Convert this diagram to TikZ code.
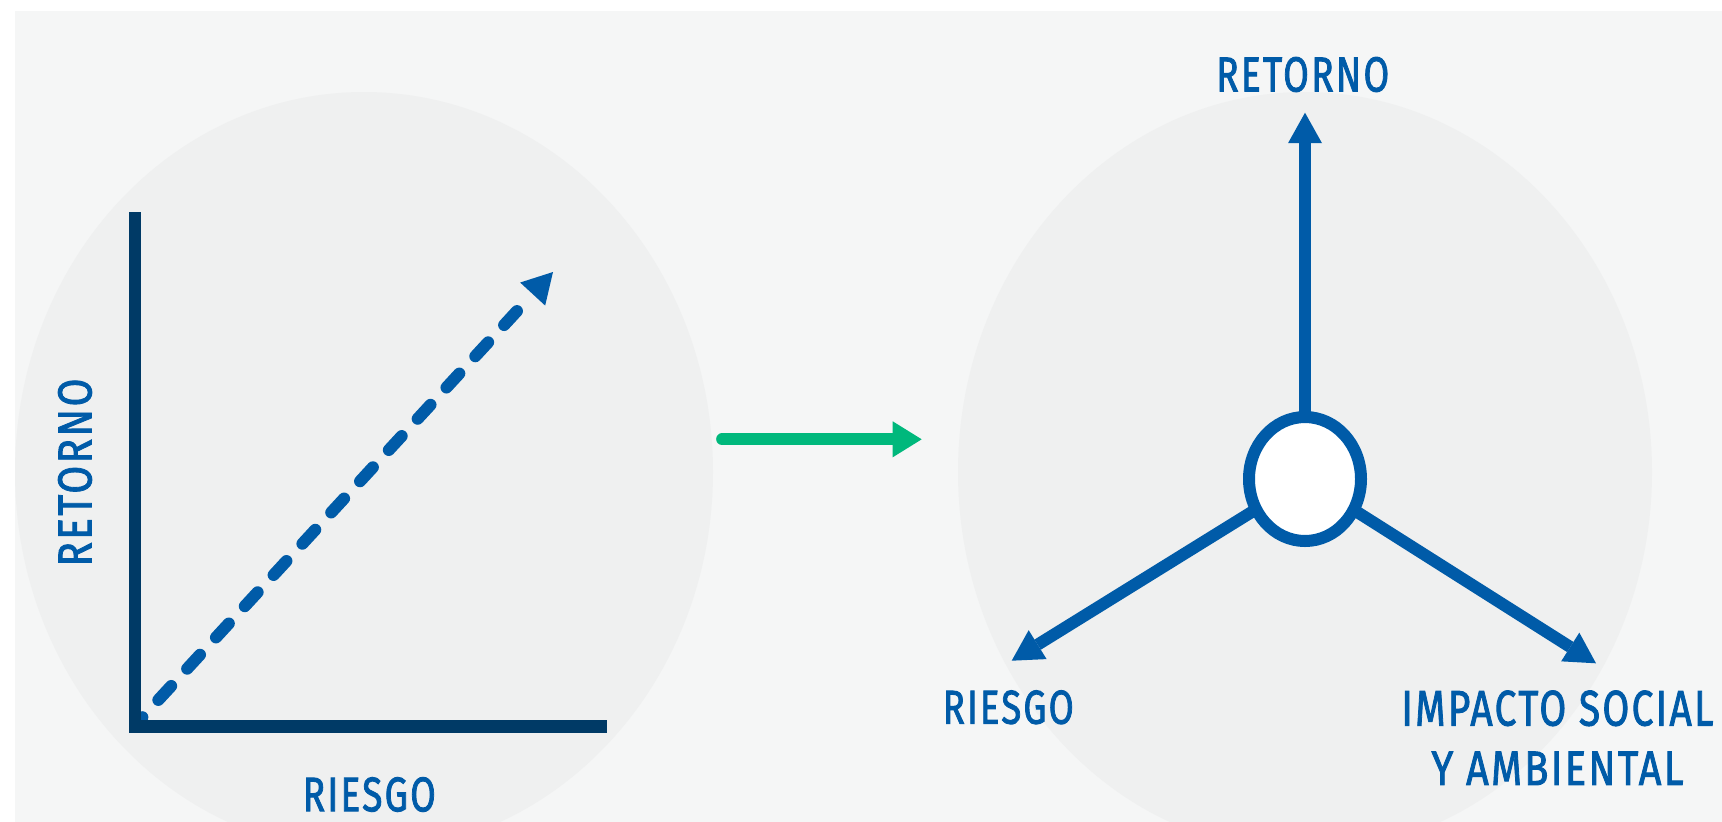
\documentclass[tikz,border=0pt]{standalone}
\usepackage{graphicx}
\usepackage{fontspec}
\setmainfont{Fira Sans}
\newfontfamily\labfont[LetterSpace=6,FakeBold=2]{Fira Sans}
\usetikzlibrary{arrows.meta,shapes.geometric}
\definecolor{pagebg}{RGB}{245,246,246}
\definecolor{circbg}{RGB}{239,240,240}
\definecolor{navyc}{RGB}{0,58,102}
\definecolor{bluec}{RGB}{0,91,168}
\definecolor{greenc}{RGB}{0,184,124}
\newcommand{\fitlab}[3]{\resizebox{#1pt}{#2pt}{\labfont #3}}
\tikzset{
  lab/.style={inner sep=0pt, outer sep=0pt, text=bluec},
  axisline/.style={draw=navyc, line width=12.5pt, line cap=butt, line join=miter},
  dashedarrow/.style={draw=bluec, line width=12pt, line cap=round,
    dash pattern=on 19pt off 23.5pt, dash phase=12.5pt,
    -{Triangle[length=30pt,width=34pt,line width=0pt,fill=bluec]}},
  greenarrow/.style={draw=greenc, line width=11.7pt, line cap=round,
    -{Triangle[length=29pt,width=36pt,line width=0pt,fill=greenc]}},
  bluearrow/.style={draw=bluec, line width=12pt, shorten <=-4pt,
    -{Triangle[length=30.5pt,width=34pt,line width=0pt,fill=bluec]}},
  hubnode/.style={ellipse, draw=bluec, fill=white, line width=12pt,
    minimum width=112pt, minimum height=124pt, inner sep=0pt}
}
\begin{document}
\begin{tikzpicture}[x=1pt,y=-1pt]
\useasboundingbox (0,0) rectangle (1722,822);
\fill[white] (0,0) rectangle (1722,822);
\fill[pagebg] (15,11) rectangle (1722,822);
\begin{scope}
\clip (15,11) rectangle (1722,822);
\fill[circbg] (364,472) ellipse [x radius=349pt, y radius=380pt];
\fill[circbg] (1305,472) ellipse [x radius=347pt, y radius=380pt];
\end{scope}
% left chart
\coordinate (dStart) at (138,722);
\coordinate (dTip) at (553,272);
\draw[dashedarrow] (dStart) -- (dTip);
\coordinate (axTop) at (135,212);
\coordinate (axCorner) at (135,726.5);
\coordinate (axEnd) at (607,726.5);
\draw[axisline] (axTop) -- (axCorner) -- (axEnd);
\node[lab, rotate=90] (retL) at (75,472.5) {\fitlab{188}{33.3}{RETORNO}};
\node[lab] (riesL) at (369.3,794.5) {\fitlab{133}{34}{RIESGO}};
% green arrow
\coordinate (gStart) at (722,439.3);
\coordinate (gEnd) at (921.7,439.3);
\draw[greenarrow] (gStart) -- (gEnd);
% right diagram
\node[hubnode] (hub) at (1305,479) {};
\coordinate (tipT) at (1305,112.7);
\coordinate (tipL) at (1011.7,660.7);
\coordinate (tipR) at (1596,663.3);
\draw[bluearrow] (hub) -- (tipT);
\draw[bluearrow] (hub) -- (tipL);
\draw[bluearrow] (hub) -- (tipR);
\node[lab] (retR) at (1302.7,74.5) {\fitlab{173}{34.4}{RETORNO}};
\node[lab] (riesR) at (1008.3,707.3) {\fitlab{131}{33.3}{RIESGO}};
\node[lab] (imp1) at (1557.5,708.3) {\fitlab{312}{35}{IMPACTO SOCIAL}};
\node[lab] (imp2) at (1557.5,768.3) {\fitlab{252}{33.3}{Y AMBIENTAL}};
\end{tikzpicture}
\end{document}
